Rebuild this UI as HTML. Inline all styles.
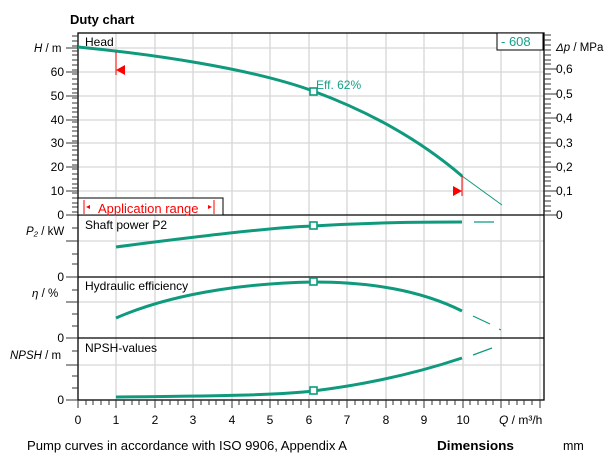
<!DOCTYPE html><html><head><style>body{margin:0;background:#fff}svg{display:block}text{font-family:"Liberation Sans",sans-serif}</style></head><body>
<svg width="608" height="454" xmlns="http://www.w3.org/2000/svg">
<rect width="608" height="454" fill="#fff"/>
<text x="70" y="24" font-size="13" font-weight="bold">Duty chart</text>
<g stroke="#d6d6d6" stroke-width="1.3">
<line x1="116" y1="33" x2="116" y2="400"/><line x1="155" y1="33" x2="155" y2="400"/><line x1="193" y1="33" x2="193" y2="400"/><line x1="232" y1="33" x2="232" y2="400"/><line x1="270" y1="33" x2="270" y2="400"/><line x1="309" y1="33" x2="309" y2="400"/><line x1="347" y1="33" x2="347" y2="400"/><line x1="386" y1="33" x2="386" y2="400"/><line x1="424" y1="33" x2="424" y2="400"/><line x1="463" y1="33" x2="463" y2="400"/><line x1="501" y1="33" x2="501" y2="400"/><line x1="540" y1="33" x2="540" y2="400"/>
<line x1="78" y1="48" x2="544" y2="48"/><line x1="78" y1="72" x2="544" y2="72"/><line x1="78" y1="96" x2="544" y2="96"/><line x1="78" y1="120" x2="544" y2="120"/><line x1="78" y1="143" x2="544" y2="143"/><line x1="78" y1="167" x2="544" y2="167"/><line x1="78" y1="191" x2="544" y2="191"/>
<line x1="78" y1="241" x2="544" y2="241"/><line x1="78" y1="302" x2="544" y2="302"/><line x1="78" y1="365" x2="544" y2="365"/>
</g>
<g stroke="#000" stroke-width="1.3" fill="none">
<rect x="78" y="33" width="466" height="367"/>
<line x1="78" y1="215" x2="544" y2="215"/><line x1="78" y1="277" x2="544" y2="277"/><line x1="78" y1="338" x2="544" y2="338"/>
</g>
<g stroke="#333" stroke-width="1">
<path d="M72 36h6M72 41h6M72 46h6M72 51h6M72 55h6M72 60h6M72 65h6M72 70h6M72 74h6M72 79h6M72 84h6M72 89h6M72 93h6M72 98h6M72 103h6M72 108h6M72 112h6M72 117h6M72 122h6M72 127h6M72 131h6M72 136h6M72 141h6M72 146h6M72 150h6M72 155h6M72 160h6M72 165h6M72 169h6M72 174h6M72 179h6M72 184h6M72 188h6M72 193h6M72 198h6M72 203h6M72 207h6M72 212h6"/>
<path d="M66 48h12M66 72h12M66 96h12M66 120h12M66 143h12M66 167h12M66 191h12M66 215h12M66 277h12M66 338h12M66 400h12"/>
<path d="M72 228h6M66 241h12M72 254h6M72 264h6M72 290h6M66 302h12M72 314h6M72 326h6M72 351h6M66 365h12M72 376h6M72 388h6"/>
<path d="M544 35h7M544 40h7M544 45h7M544 50h7M544 55h7M544 60h7M544 64h7M544 74h7M544 79h7M544 84h7M544 89h7M544 99h7M544 104h7M544 108h7M544 113h7M544 123h7M544 128h7M544 133h7M544 138h7M544 147h7M544 152h7M544 157h7M544 162h7M544 172h7M544 177h7M544 181h7M544 186h7M544 196h7M544 201h7M544 206h7M544 211h7"/>
<path d="M544 69h13M544 94h13M544 118h13M544 143h13M544 167h13M544 191h13M544 215h13"/>
<path d="M78 400v8M116 400v8M155 400v8M193 400v8M232 400v8M270 400v8M309 400v8M347 400v8M386 400v8M424 400v8M463 400v8M501 400v8M540 400v8"/>
<path d="M86 400v5M93 400v5M101 400v5M109 400v5M124 400v5M132 400v5M139 400v5M147 400v5M162 400v5M170 400v5M178 400v5M185 400v5M201 400v5M209 400v5M216 400v5M224 400v5M239 400v5M247 400v5M255 400v5M262 400v5M278 400v5M286 400v5M293 400v5M301 400v5M316 400v5M324 400v5M332 400v5M339 400v5M355 400v5M363 400v5M370 400v5M378 400v5M393 400v5M401 400v5M409 400v5M416 400v5M432 400v5M440 400v5M447 400v5M455 400v5M470 400v5M478 400v5M486 400v5M493 400v5M509 400v5M517 400v5M524 400v5M532 400v5"/>
</g>
<g font-size="12" text-anchor="end" fill="#000">
<text x="64" y="76">60</text><text x="64" y="100">50</text><text x="64" y="124">40</text><text x="64" y="147">30</text><text x="64" y="171">20</text><text x="64" y="195">10</text><text x="64" y="219">0</text><text x="64" y="281">0</text><text x="64" y="342">0</text><text x="64" y="404">0</text>
</g>
<g font-size="11.5" fill="#000">
<text x="34" y="52"><tspan font-style="italic">H</tspan> / m</text>
<text x="26" y="235"><tspan font-style="italic">P₂</tspan> / kW</text>
<text x="32" y="297"><tspan font-style="italic">η</tspan> / %</text>
<text x="10" y="359"><tspan font-style="italic">NPSH</tspan>  / m</text>
<text x="556" y="51"><tspan font-style="italic">Δp</tspan> / MPa</text>
</g>
<g font-size="12" fill="#000"><text x="556" y="73">0,6</text><text x="556" y="98">0,5</text><text x="556" y="122">0,4</text><text x="556" y="147">0,3</text><text x="556" y="171">0,2</text><text x="556" y="195">0,1</text><text x="556" y="219">0</text></g>
<g font-size="12" text-anchor="middle"><text x="78" y="424">0</text><text x="116" y="424">1</text><text x="155" y="424">2</text><text x="193" y="424">3</text><text x="232" y="424">4</text><text x="270" y="424">5</text><text x="309" y="424">6</text><text x="347" y="424">7</text><text x="386" y="424">8</text><text x="424" y="424">9</text><text x="463" y="424">10</text></g>
<text x="499" y="424" font-size="12"><tspan font-style="italic">Q</tspan> / m³/h</text>
<g font-size="12"><text x="85" y="46">Head</text><text x="85" y="229">Shaft power P2</text><text x="85" y="290">Hydraulic efficiency</text><text x="85" y="352">NPSH-values</text></g>
<rect x="497" y="33" width="46" height="17" fill="#fff" stroke="#000"/>
<text x="501" y="46" font-size="13" fill="#14a08a">- 608</text>
<text x="316" y="89" font-size="12" fill="#14a08a">Eff.  62%</text>
<g fill="none" stroke="#0f9a7e">
<path d="M78 47 C150 54 250 68 313 91 C370 112 420 140 462 176" stroke-width="3"/>
<path d="M462 176 L502 205" stroke-width="1"/>
<path d="M116 247 C200 236 280 227 313 226 C380 222 430 222 462 222" stroke-width="3"/>
<path d="M474 222 H494" stroke-width="1.2"/>
<path d="M116 318 C180 290 260 283 313 282 C370 282 420 290 462 311" stroke-width="3"/>
<path d="M473 316 L490 324 M499 329 L501 330" stroke-width="1.2"/>
<path d="M116 397 C220 396 280 395 313 391 C370 384 420 372 462 358" stroke-width="3"/>
<path d="M473 355 L492 348" stroke-width="1.2"/>
<rect x="310" y="88" width="7" height="7" fill="#fff" stroke-width="1.6"/>
<rect x="310" y="222" width="7" height="7" fill="#fff" stroke-width="1.6"/>
<rect x="310" y="278" width="7" height="7" fill="#fff" stroke-width="1.6"/>
<rect x="310" y="387" width="7" height="7" fill="#fff" stroke-width="1.6"/>
</g>
<g stroke="#f00" stroke-width="1"><line x1="116" y1="52" x2="116" y2="75"/><line x1="462" y1="175" x2="462" y2="196"/></g>
<polygon points="116,70 125,65 125,75" fill="#f00"/>
<polygon points="462,191 453,186 453,196" fill="#f00"/>
<rect x="78" y="198" width="145" height="17" fill="#fff" stroke="#000"/>
<g stroke="#f00"><line x1="84" y1="200" x2="84" y2="214"/><line x1="214" y1="200" x2="214" y2="214"/></g>
<polygon points="86,207 90,205 90,209" fill="#f00"/><polygon points="212,207 208,205 208,209" fill="#f00"/>
<text x="98" y="213" font-size="13" fill="#f00">Application range</text>
<text x="27" y="450" font-size="12.5" textLength="320" lengthAdjust="spacingAndGlyphs">Pump curves in accordance with ISO 9906, Appendix A</text>
<text x="437" y="450" font-size="12.5" font-weight="bold" textLength="77" lengthAdjust="spacingAndGlyphs">Dimensions</text>
<text x="563" y="450" font-size="12.5">mm</text>
</svg></body></html>
